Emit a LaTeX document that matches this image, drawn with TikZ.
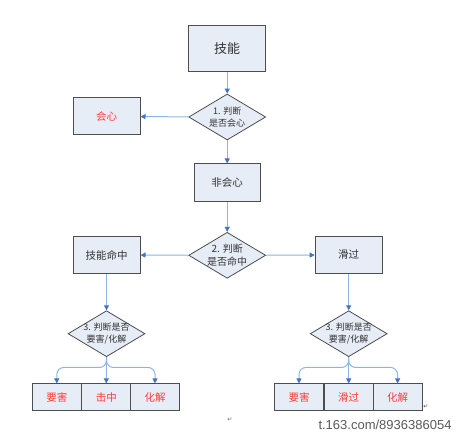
\documentclass[tikz,border=0pt]{standalone}
\usepackage{fontspec}
\newfontfamily\cjk{Noto Sans CJK SC}
\newfontfamily\dv{DejaVu Sans}
\newfontfamily\wm{Liberation Sans}
\usetikzlibrary{shapes.geometric,arrows.meta}
\definecolor{boxfill}{HTML}{E6EDF7}
\definecolor{boxline}{HTML}{4D4D4D}
\definecolor{lineblue}{HTML}{8DB4E2}
\definecolor{tipblue}{HTML}{4472C4}
\definecolor{txt}{HTML}{333333}
\definecolor{redtxt}{HTML}{FF3B3B}
\begin{document}
\begin{tikzpicture}[x=1pt,y=-1pt,
 box/.style={draw=boxline, fill=boxfill, line width=1pt, inner sep=0pt, font=\cjk\fontsize{10.5}{12}\selectfont, text=txt},
 small/.style={box, minimum width=49pt, minimum height=26.7pt, text=redtxt},
 dia/.style={draw=boxline, fill=boxfill, line width=0.8pt, shape=diamond, inner sep=0pt, minimum width=77pt, minimum height=46pt},
 diatext/.style={font=\cjk\fontsize{9}{12.5}\selectfont, text=txt, align=center},
 arr/.style={draw=lineblue, line width=1pt, -{Triangle[length=5pt,width=5pt,color=tipblue]}},
]
\useasboundingbox (0,0) rectangle (460,438);
\node[box, minimum width=77pt, minimum height=46pt, font=\cjk\fontsize{13}{14}\selectfont] (skill) at (227.2,49) {技能};
\node[dia] (d1) at (227.2,117) {};
\node[diatext] (t1) at (d1.center) {1. 判断\\是否会心};
\node[box, minimum width=67pt, minimum height=37pt, text=redtxt] (crit) at (106.5,116.5) {会心};
\node[box, minimum width=66pt, minimum height=38pt] (noncrit) at (227.2,183) {非会心};
\node[dia] (d2) at (227.2,255.3) {};
\node[diatext, font=\cjk\fontsize{10}{12.5}\selectfont] (t2) at (d2.center) {2. 判断\\是否命中};
\node[box, minimum width=67pt, minimum height=36.5pt] (hit) at (106.5,255) {技能命中};
\node[box, minimum width=67pt, minimum height=36.5pt] (dodge) at (348.7,255) {滑过};
\node[dia] (d3l) at (106.5,333.7) {};
\node[diatext] (t3l) at (d3l.center) {3. 判断是否\\要害/化解};
\node[dia] (d3r) at (348.7,333.7) {};
\node[diatext] (t3r) at (d3r.center) {3. 判断是否\\要害/化解};
\node[small] (l1) at (56.8,397.3) {要害};
\node[small] (l2) at (106.3,397.3) {击中};
\node[small] (l3) at (155,397.3) {化解};
\node[small] (r1) at (299,397.3) {要害};
\node[small] (r2) at (348.7,397.3) {滑过};
\node[small] (r3) at (397.6,397.3) {化解};
\draw[arr] (skill) -- (d1);
\draw[arr] (d1) -- (crit);
\draw[arr] (d1) -- (noncrit);
\draw[arr] (noncrit) -- (d2);
\draw[arr] (d2) -- (hit);
\draw[arr] (d2) -- (dodge);
\draw[arr] (hit) -- (d3l);
\draw[arr] (dodge) -- (d3r);
\draw[arr] (d3l.south) -- (l2.north);
\draw[arr, rounded corners=7pt] (d3l.south) |- ([yshift=16pt]l1.north) -- (l1.north);
\draw[arr, rounded corners=7pt] (d3l.south) |- ([yshift=16pt]l3.north) -- (l3.north);
\draw[arr] (d3r.south) -- (r2.north);
\draw[arr, rounded corners=7pt] (d3r.south) |- ([yshift=16pt]r1.north) -- (r1.north);
\draw[arr, rounded corners=7pt] (d3r.south) |- ([yshift=16pt]r3.north) -- (r3.north);
\node[font=\wm\fontsize{13}{14}\selectfont, text=black!65] (mark) at (385,425) {t.163.com/8936386054};
\node[font=\dv\fontsize{6}{7}\selectfont, text=black!60] (ret1) at (230,420) {↵};
\node[font=\dv\fontsize{6}{7}\selectfont, text=black!70] (ret2) at (426,407) {↵};
\end{tikzpicture}
\end{document}
